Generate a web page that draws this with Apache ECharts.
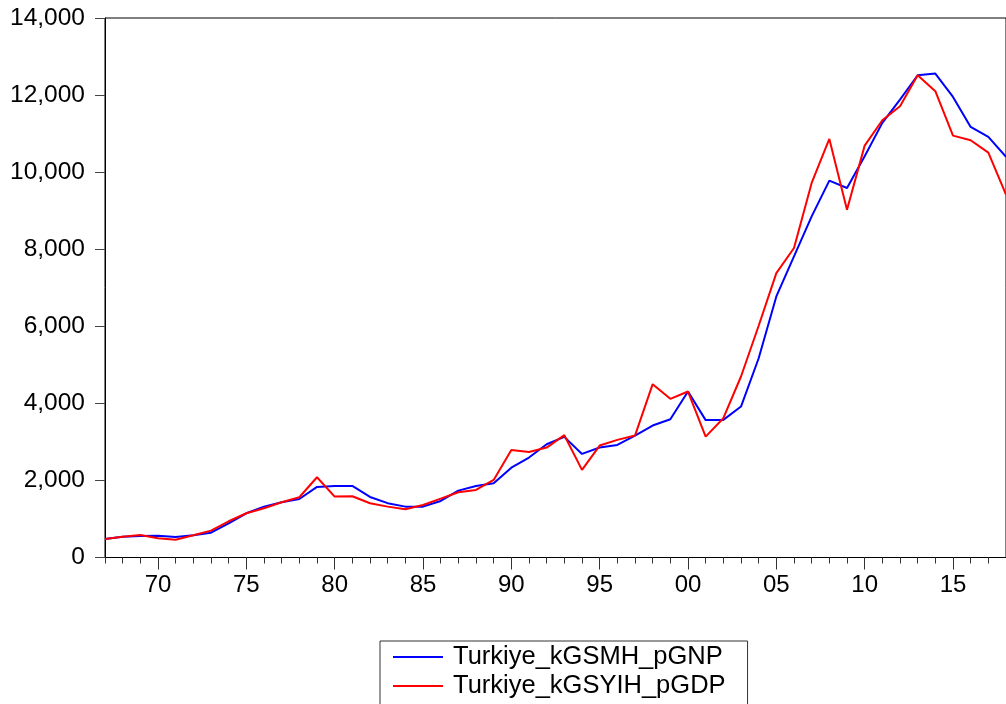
<!DOCTYPE html>
<html>
<head>
<meta charset="utf-8">
<title>Turkiye GNP / GDP per capita</title>
<script src="https://cdn.jsdelivr.net/npm/echarts@6/dist/echarts.min.js"></script>
<style>
  html, body { margin: 0; padding: 0; background: #fff; }
  #chart { width: 1006px; height: 704px; }
</style>
</head>
<body>
<div id="chart"></div>
<script>
// years 1967 .. 2018
const years = [];
for (let y = 1967; y <= 2018; y++) years.push(String(y));

const gnpNames = 'Turkiye_kGSMH_pGNP';
const gdpNames = 'Turkiye_kGSYIH_pGDP';

// blue line
const gnpValues = [
  481, 541, 556, 567, 532, 576, 645, 888, 1148, 1320,
  1433, 1519, 1831, 1857, 1857, 1571, 1410, 1320, 1320, 1468,
  1736, 1857, 1927, 2330, 2593, 2940, 3130, 2688, 2853, 2922,
  3164, 3424, 3589, 4307, 3565, 3571, 3917, 5170, 6775, 7813,
  8852, 9779, 9589, 10411, 11278, 11883, 12515, 12558, 11953, 11173,
  10914, 10399
];

// red line
const gdpValues = [
  481, 541, 584, 498, 463, 576, 697, 940, 1148, 1277,
  1433, 1563, 2083, 1580, 1590, 1407, 1320, 1251, 1364, 1528,
  1693, 1753, 2013, 2792, 2740, 2853, 3174, 2273, 2905, 3052,
  3164, 4498, 4117, 4307, 3138, 3615, 4697, 6013, 7381, 8031,
  9719, 10862, 9026, 10688, 11346, 11709, 12515, 12100, 10948, 10827,
  10507, 9416
];

const yTicks = [0, 2000, 4000, 6000, 8000, 10000, 12000, 14000];

const fontFamily = '"Liberation Sans", Arial, sans-serif';
const chart = echarts.init(document.getElementById('chart'));

const isMajor = (idx) => Number(years[idx]) % 5 === 0;

const option = {
  animation: false,
  backgroundColor: '#fff',
  grid: {
    left: 105,
    right: -7,
    top: 18,
    bottom: 146.5,
    show: true,
    borderColor: '#000',
    borderWidth: 1
  },
  legend: {
    orient: 'vertical',
    left: 380,
    top: 641,
    height: 120,
    padding: [3, 22, 12, 13],
    itemGap: 3,
    itemWidth: 50,
    itemHeight: 2,
    borderColor: '#333',
    borderWidth: 1,
    textStyle: {
      fontFamily: fontFamily,
      fontSize: 25.5,
      color: '#000',
      padding: [0, 0, 0, 5]
    },
    data: [
      { name: gnpNames, icon: 'rect' },
      { name: gdpNames, icon: 'rect' }
    ]
  },
  xAxis: [
    {
      type: 'category',
      data: years,
      boundaryGap: false,
      axisLine: { lineStyle: { color: '#000', width: 1 } },
      axisTick: {
        interval: 0,
        length: 6,
        lineStyle: { color: '#333' }
      },
      axisLabel: {
        interval: (idx) => isMajor(idx),
        formatter: (v) => v.slice(2),
        margin: 16,
        fontFamily: fontFamily,
        fontSize: 24,
        color: '#000'
      },
      splitLine: { show: false }
    },
    {
      type: 'category',
      data: years,
      boundaryGap: false,
      position: 'bottom',
      axisLine: { show: false },
      axisTick: {
        interval: (idx) => isMajor(idx),
        length: 12,
        lineStyle: { color: '#333' }
      },
      axisLabel: { show: false },
      splitLine: { show: false }
    }
  ],
  yAxis: {
    type: 'value',
    min: yTicks[0],
    max: yTicks[yTicks.length - 1],
    interval: 2000,
    axisLine: { show: true, lineStyle: { color: '#000', width: 1 } },
    axisTick: { show: true, length: 10, lineStyle: { color: '#444' } },
    axisLabel: {
      margin: 20,
      fontFamily: fontFamily,
      fontSize: 24.5,
      color: '#000',
      formatter: (v) => v.toLocaleString('en-US')
    },
    splitLine: { show: false }
  },
  series: [
    {
      name: gnpNames,
      type: 'line',
      data: gnpValues,
      xAxisIndex: 0,
      symbol: 'none',
      color: '#0000ff',
      lineStyle: { color: '#0000ff', width: 2 }
    },
    {
      name: gdpNames,
      type: 'line',
      data: gdpValues,
      xAxisIndex: 0,
      symbol: 'none',
      color: '#ff0000',
      lineStyle: { color: '#ff0000', width: 2 }
    }
  ]
};

chart.setOption(option);
</script>
</body>
</html>
